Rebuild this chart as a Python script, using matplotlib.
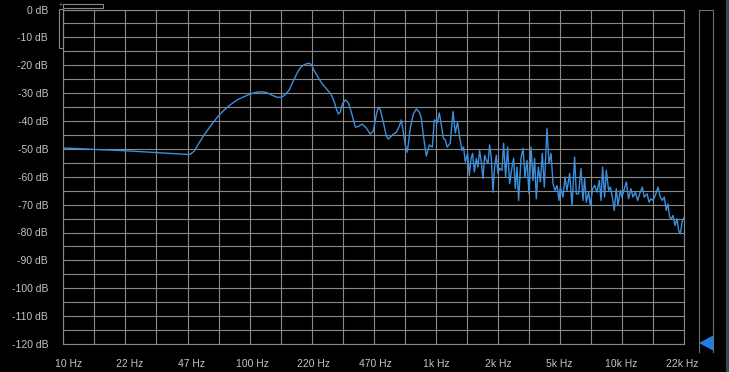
import matplotlib
matplotlib.use("Agg")
import matplotlib.pyplot as plt
from matplotlib.patches import Rectangle, Polygon
from matplotlib.transforms import ScaledTranslation
from matplotlib.ticker import FixedLocator, NullFormatter

# ---------------- data ----------------
freq_hz = [10, 12, 15.8, 22.1, 33.3, 46.5, 48.3, 50.7, 53.3, 56.7, 60.3, 64.2, 68.3,
           73.6, 79.2, 86.4, 93.1, 101.5, 109.4, 117.8, 125.3, 133.3, 141.8, 149.1,
           156.6, 164.6, 172.9, 181.8, 188.6, 195.7, 203.2, 210.9, 216.2, 224.4,
           235.8, 247.7, 263.6, 277.0, 287.5, 294.7, 302.1, 309.7, 317.4, 329.5,
           342.0, 354.9, 372.9, 387.0, 406.7, 427.3, 449.2, 466.2, 483.8, 496.0,
           508.4, 527.7, 547.6, 561.4, 575.5, 597.4, 619.9, 643.5, 659.6, 676.1,
           692.8, 710.5, 737.5, 765.3, 794.2, 824.5, 845.2, 866.2, 899.2, 933.2,
           968.5, 992.7, 1030, 1056, 1083, 1110, 1138, 1166,
           1210, 1252, 1288, 1325, 1358, 1399, 1427, 1457, 1500, 1532, 1565, 1596,
           1630, 1671, 1706, 1740, 1778, 1816, 1852, 1891, 1932, 1970, 2012, 2055,
           2096, 2141, 2186, 2230, 2297, 2343, 2402, 2462, 2524, 2601, 2653, 2709,
           2767, 2822, 2907, 2981, 3055, 3132, 3211, 3291, 3374, 3441, 3515, 3603,
           3694, 3786, 3881, 4012, 4113, 4217, 4323, 4432, 4543, 4658,
           4732, 4893, 5016, 5142, 5311, 5471, 5649, 5769, 5936, 6115, 6269, 6395,
           6531, 6720, 6864, 7063, 7240, 7458, 7674, 7838, 7994, 8194, 8369, 8610,
           8793, 9047, 9239, 9471, 9672, 9952, 10160, 10460, 10720, 11030, 11360,
           11650, 11990, 12340, 12750, 13070, 13400, 13860, 14210, 14560, 14930,
           15360, 15880, 16340, 16750, 17170, 17600, 17970, 18340, 18730, 19120,
           19610, 20100, 20500, 20940, 21470, 22000]

level_db = [-49.7, -49.9, -50.3, -50.7, -51.4, -52.0, -51.9, -50.8, -48.3, -45.4, -42.9,
            -40.4, -38.2, -36.0, -34.2, -32.4, -31.4, -30.3, -29.7, -29.5, -29.9,
            -30.8, -31.5, -31.5, -30.6, -28.8, -25.6, -22.7, -20.9, -20.0, -19.5,
            -19.3, -19.8, -22.0, -24.5, -26.7, -28.8, -30.6, -33.2, -35.7, -37.5,
            -36.8, -33.9, -32.4, -33.5, -36.8, -42.2, -42.0, -41.1, -42.5, -44.7,
            -43.6, -37.8, -35.0, -36.0, -40.4, -45.4, -46.5, -45.8, -44.7, -44.1,
            -41.8, -39.6, -44.0, -48.6, -51.2, -42.5, -37.5, -35.7, -36.8, -39.0,
            -45.0, -52.6, -48.6, -49.4, -39.6, -40.7, -37.1, -41.4, -46.1, -46.8,
            -49.4,
            -47.9, -36.6, -44.3, -40.3, -45.7, -50.5, -49.3, -54.7, -51.6, -59.5,
            -53.4, -51.6, -58.3, -53.4, -56.5, -50.5, -54.7, -60.6, -52.3, -54.1,
            -55.2, -48.6, -53.4, -65.5, -56.5, -52.3, -58.8, -57.0, -57.7, -48.0,
            -60.1, -49.3, -62.5, -56.5, -53.4, -64.3, -56.5, -68.5, -53.4, -49.8,
            -60.1, -54.1, -66.1, -49.3, -61.3, -53.4, -67.9, -56.5, -61.9, -51.6,
            -63.7, -42.6, -55.2, -51.6, -62.5, -64.9, -63.1, -68.5,
            -63.7, -67.3, -60.1, -64.9, -58.8, -70.3, -52.9, -66.1, -66.1, -57.0,
            -68.5, -60.6, -69.1, -65.5, -70.3, -64.3, -63.1, -65.5, -61.3, -68.5,
            -56.5, -67.3, -57.7, -64.9, -63.7, -67.9, -72.1, -64.3, -70.3, -64.9,
            -67.3, -64.3, -61.9, -67.9, -64.3, -67.3, -65.5, -68.5, -65.5, -63.7,
            -67.3, -66.1, -69.1, -67.9, -68.5, -66.7, -63.7, -67.3, -68.5, -67.3,
            -72.1, -69.7, -74.5, -75.1, -73.9, -77.5, -75.1, -79.3, -80.5, -75.7,
            -74.5]

db_ticks = list(range(0, -121, -10))
db_labels = [f"{v} dB" for v in db_ticks]
freq_labels = ["10 Hz", "22 Hz", "47 Hz", "100 Hz", "220 Hz", "470 Hz",
               "1k Hz", "2k Hz", "5k Hz", "10k Hz", "22k Hz"]

# ---------------- layout ----------------
W, H = 729, 372
FMIN, FMAX = 10.0, 22000.0
GRID = "#8a8a8a"
TEXT = "#c4c4c4"
LINE = "#3b8fdc"

plt.rcParams["font.family"] = ["Liberation Sans", "DejaVu Sans"]

fig = plt.figure(figsize=(W / 100, H / 100), dpi=100, facecolor="black")
left, right, top, bottom = 63.3, 684.3, 9.5, 344.0
ax = fig.add_axes([left / W, 1 - bottom / H, (right - left) / W, (bottom - top) / H])
ax.set_facecolor("black")

ax.plot(freq_hz, level_db, color=LINE, lw=1.0, solid_joinstyle="round")

ax.set_xscale("log")
ax.set_xlim(FMIN, FMAX)
ax.set_ylim(-120, 0)

ratio = FMAX / FMIN
major_x = [FMIN * ratio ** (i / 10) for i in range(11)]
minor_x = [FMIN * ratio ** ((2 * i + 1) / 20) for i in range(10)]
ax.xaxis.set_major_locator(FixedLocator(major_x))
ax.xaxis.set_minor_locator(FixedLocator(minor_x))
ax.xaxis.set_minor_formatter(NullFormatter())
ax.set_xticklabels(freq_labels)

ax.set_yticks(db_ticks)
ax.set_yticklabels(db_labels)
ax.yaxis.set_minor_locator(FixedLocator(list(range(-5, -120, -10))))

ax.grid(True, which="both", color=GRID, lw=0.8)
ax.set_axisbelow(True)
for s in ax.spines.values():
    s.set_color(GRID)
    s.set_linewidth(0.8)

ax.tick_params(axis="both", which="both", length=0, colors=TEXT, labelsize=7.5)
ax.tick_params(axis="y", pad=11)
ax.tick_params(axis="x", pad=10.5)

# shift the x labels slightly as in the reference
for i, lab in enumerate(ax.get_xticklabels()):
    dx = (5.0 - 0.7 * i) / 100.0
    lab.set_transform(lab.get_transform() + ScaledTranslation(dx, 0, fig.dpi_scale_trans))


def px(x, y):
    return (x / W, 1 - y / H)


# level meter on the right
fig.add_artist(plt.Line2D([699 / W, 699 / W], [1 - 9.5 / H, 1 - 352 / H],
                          color="#6e6e6e", lw=0.8, transform=fig.transFigure))
fig.add_artist(plt.Line2D([713 / W, 713 / W], [1 - 9.5 / H, 1 - 352 / H],
                          color="#6e6e6e", lw=0.8, transform=fig.transFigure))
fig.add_artist(plt.Line2D([699 / W, 713 / W], [1 - 9.5 / H, 1 - 9.5 / H],
                          color="#6e6e6e", lw=0.8, transform=fig.transFigure))
fig.add_artist(Polygon([px(699, 343), px(714, 335), px(714, 351)], closed=True,
                       facecolor="#1f7fe6", edgecolor="none", transform=fig.transFigure))
fig.add_artist(Rectangle(px(726, 372), 3 / W, 1, facecolor="#2e4b63", edgecolor="none",
                         transform=fig.transFigure))

# scroll indicators at top-left
fig.add_artist(Rectangle(px(63, 8.3), 40 / W, 4 / H, facecolor="none", edgecolor="#8a8a8a",
                         lw=0.8, transform=fig.transFigure))
fig.add_artist(Rectangle(px(58.5, 48), 4.5 / W, 39 / H, facecolor="none", edgecolor="#8a8a8a",
                         lw=0.8, transform=fig.transFigure))
fig.text(60.5 / W, 1 - 5.5 / H, "+", color="#8a8a8a", fontsize=5, ha="center", va="center")

fig.savefig("out.png", dpi=100, facecolor="black")
